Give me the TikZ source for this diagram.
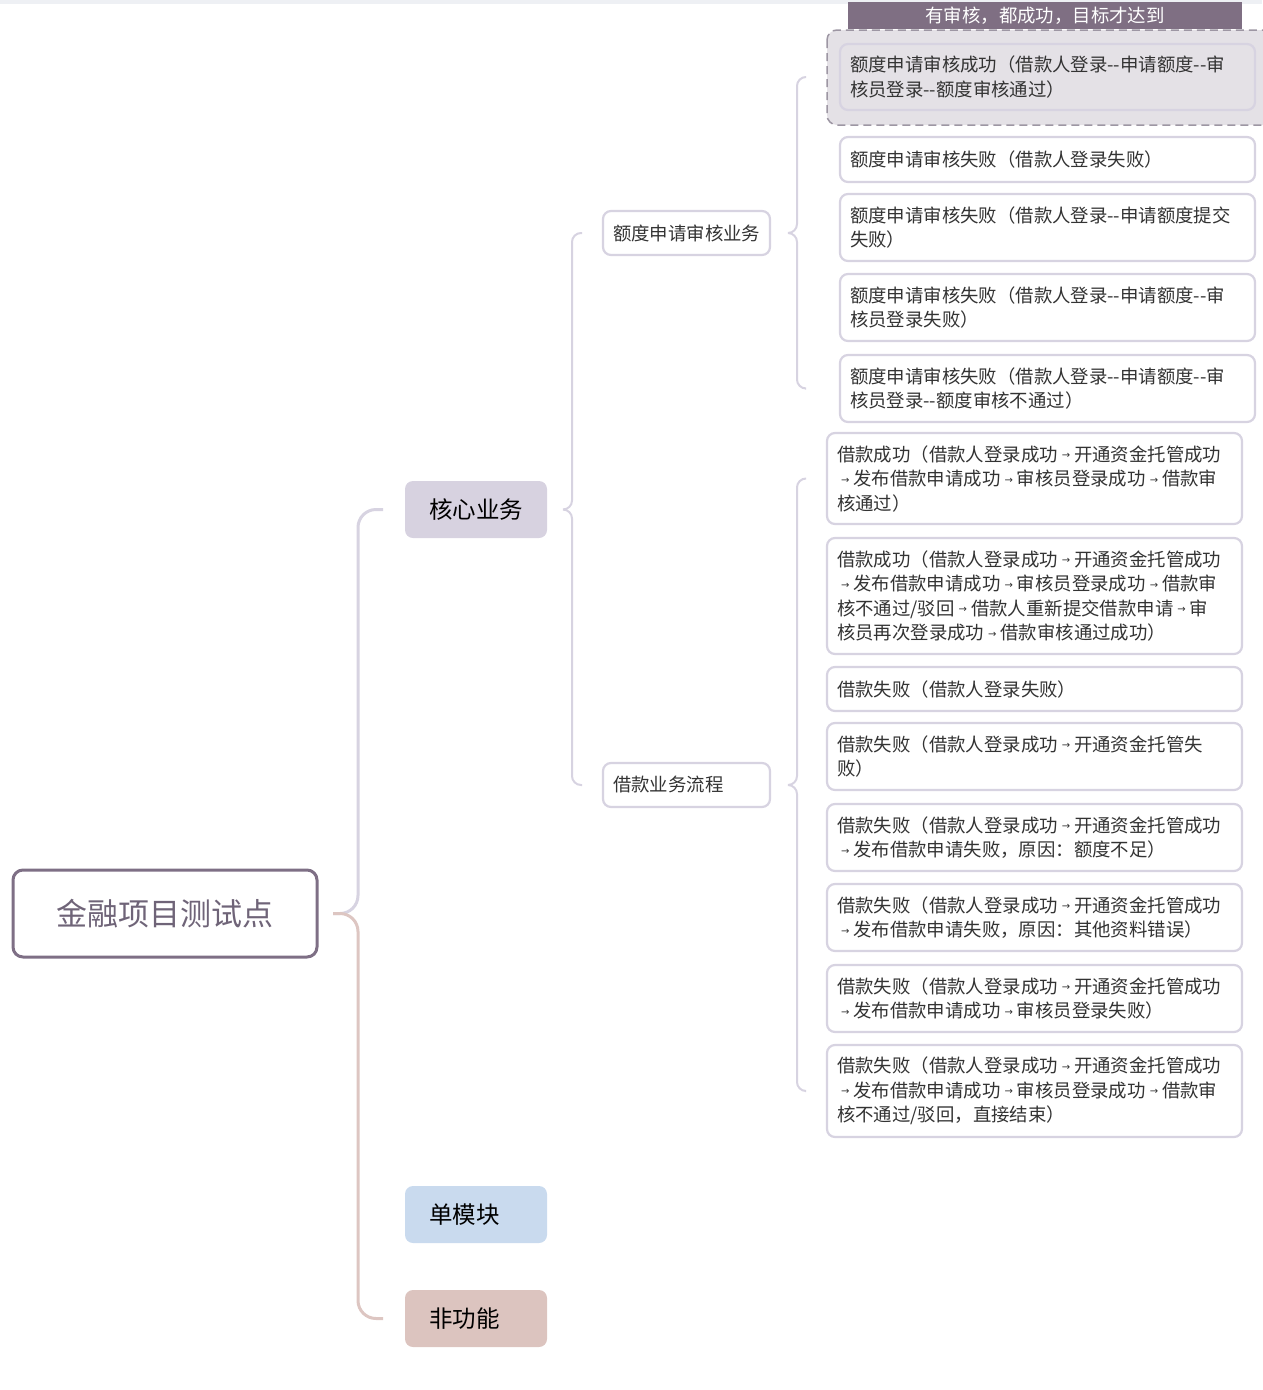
\documentclass[tikz,border=0pt]{standalone}
\usepackage{fontspec}
\setmainfont{Noto Sans CJK SC}[Ligatures=TeXOff]
\newfontfamily\arrowfont{DejaVu Sans}
\definecolor{lav}{HTML}{D7D3E1}
\definecolor{pinkc}{HTML}{DDC6C2}
\definecolor{rootc}{HTML}{7E6F85}
\definecolor{roott}{HTML}{6F6478}
\definecolor{corec}{HTML}{D7D2E0}
\definecolor{singc}{HTML}{C9DAEE}
\definecolor{nfc}{HTML}{DCC4BF}
\definecolor{labc}{HTML}{7F6F83}
\definecolor{boxc}{HTML}{E4E1E6}
\definecolor{dashc}{HTML}{9D96A3}
\definecolor{txt}{HTML}{333333}
\definecolor{topc}{HTML}{EEF0F4}
\newcommand\ra{\leavevmode\kern4pt\raisebox{2.5pt}{\arrowfont\fontsize{10}{10}\selectfont →}\kern4pt}
\begin{document}
\begin{tikzpicture}[x=1pt, y=-1pt,
every node/.style={inner sep=0pt, outer sep=0pt},
main/.style={rounded corners=8pt, anchor=north west, minimum width=142pt, minimum height=57pt,
  text width=94pt, inner xsep=24pt, align=left, font=\fontsize{23.5}{28}\selectfont},
sub/.style={draw=lav, line width=2.2pt, fill=white, rounded corners=8pt, anchor=north west,
  minimum height=44pt, text width=147pt, inner xsep=10pt, align=left, text=txt,
  font=\fontsize{18.4}{22}\selectfont},
leaf/.style={draw=lav, line width=2.2pt, fill=white, rounded corners=8pt, anchor=north west,
  text width=395pt, inner xsep=10pt, align=left, text=txt, minimum height=#1,
  font=\fontsize{18.4}{24.5}\selectfont},
leaf/.default=67pt,
br/.style={draw=lav, line width=2pt, rounded corners=9pt}]
\useasboundingbox (0,0) rectangle (1262,1390);
\fill[topc] (0,0) rectangle (1262,4);
% root and first level
\node[draw=rootc, line width=3pt, rounded corners=10pt, minimum width=304pt, minimum height=87pt,
  anchor=north west, text=roott, font=\fontsize{31}{36}\selectfont] (root) at (13,870) {金融项目测试点};
\node[main, fill=corec] (core) at (405,481) {核心业务};
\node[main, fill=singc] (single) at (405,1186) {单模块};
\node[main, fill=nfc] (nf) at (405,1290) {非功能};
% second level
\node[sub] (quota) at (603,211) {额度申请审核业务};
\node[sub] (loan) at (603,763) {借款业务流程};
% summary box
\draw[dash pattern=on 8pt off 5pt, draw=dashc, line width=1.5pt, fill=boxc, rounded corners=10pt]
  (827,30) rectangle (1290,125);
\node[fill=labc, text=white, anchor=north west, minimum width=394pt, minimum height=27pt,
  font=\fontsize{18.4}{22}\selectfont] (goal) at (848,2) {有审核，都成功，目标才达到};
% quota leaves
\node[leaf=66pt, fill=boxc] (a1) at (840,44) {额度申请审核成功（借款人登录--申请额度--审\\核员登录--额度审核通过）};
\node[leaf=45pt] (a2) at (840,137) {额度申请审核失败（借款人登录失败）};
\node[leaf] (a3) at (840,194) {额度申请审核失败（借款人登录--申请额度提交\\失败）};
\node[leaf] (a4) at (840,274) {额度申请审核失败（借款人登录--申请额度--审\\核员登录失败）};
\node[leaf] (a5) at (840,355) {额度申请审核失败（借款人登录--申请额度--审\\核员登录--额度审核不通过）};
% loan leaves
\node[leaf=91pt] (b1) at (827,433) {借款成功（借款人登录成功\ra 开通资金托管成功\\\ra 发布借款申请成功\ra 审核员登录成功\ra 借款审\\核通过）};
\node[leaf=116pt] (b2) at (827,538) {借款成功（借款人登录成功\ra 开通资金托管成功\\\ra 发布借款申请成功\ra 审核员登录成功\ra 借款审\\核不通过/驳回\ra 借款人重新提交借款申请\ra 审\\核员再次登录成功\ra 借款审核通过成功）};
\node[leaf=44pt] (b3) at (827,667) {借款失败（借款人登录失败）};
\node[leaf] (b4) at (827,723) {借款失败（借款人登录成功\ra 开通资金托管失\\败）};
\node[leaf] (b5) at (827,804) {借款失败（借款人登录成功\ra 开通资金托管成功\\\ra 发布借款申请失败，原因：额度不足）};
\node[leaf] (b6) at (827,884) {借款失败（借款人登录成功\ra 开通资金托管成功\\\ra 发布借款申请失败，原因：其他资料错误）};
\node[leaf] (b7) at (827,965) {借款失败（借款人登录成功\ra 开通资金托管成功\\\ra 发布借款申请成功\ra 审核员登录失败）};
\node[leaf=92pt] (b8) at (827,1045) {借款失败（借款人登录成功\ra 开通资金托管成功\\\ra 发布借款申请成功\ra 审核员登录成功\ra 借款审\\核不通过/驳回，直接结束）};
% brackets
\draw[br, line width=3pt, rounded corners=18pt] ([xshift=16pt]root.east) -| ([xshift=-47pt]core.west) -- ([xshift=-22pt]core.west);
\draw[br, draw=pinkc, line width=3pt, rounded corners=18pt] ([xshift=16pt]root.east) -| ([xshift=-47pt]nf.west) -- ([xshift=-22pt]nf.west);
\draw[br] ([xshift=16pt]core.east) -| ([xshift=-31pt]quota.west) -- ([xshift=-21pt]quota.west);
\draw[br] ([xshift=16pt]core.east) -| ([xshift=-31pt]loan.west) -- ([xshift=-21pt]loan.west);
\draw[br] ([xshift=18pt]quota.east) -| ([xshift=-43pt]a1.west) -- ([xshift=-35pt]a1.west);
\draw[br] ([xshift=18pt]quota.east) -| ([xshift=-43pt]a5.west) -- ([xshift=-35pt]a5.west);
\draw[br] ([xshift=18pt]loan.east) -| ([xshift=-30pt]b1.west) -- ([xshift=-22pt]b1.west);
\draw[br] ([xshift=18pt]loan.east) -| ([xshift=-30pt]b8.west) -- ([xshift=-22pt]b8.west);
\end{tikzpicture}
\end{document}
